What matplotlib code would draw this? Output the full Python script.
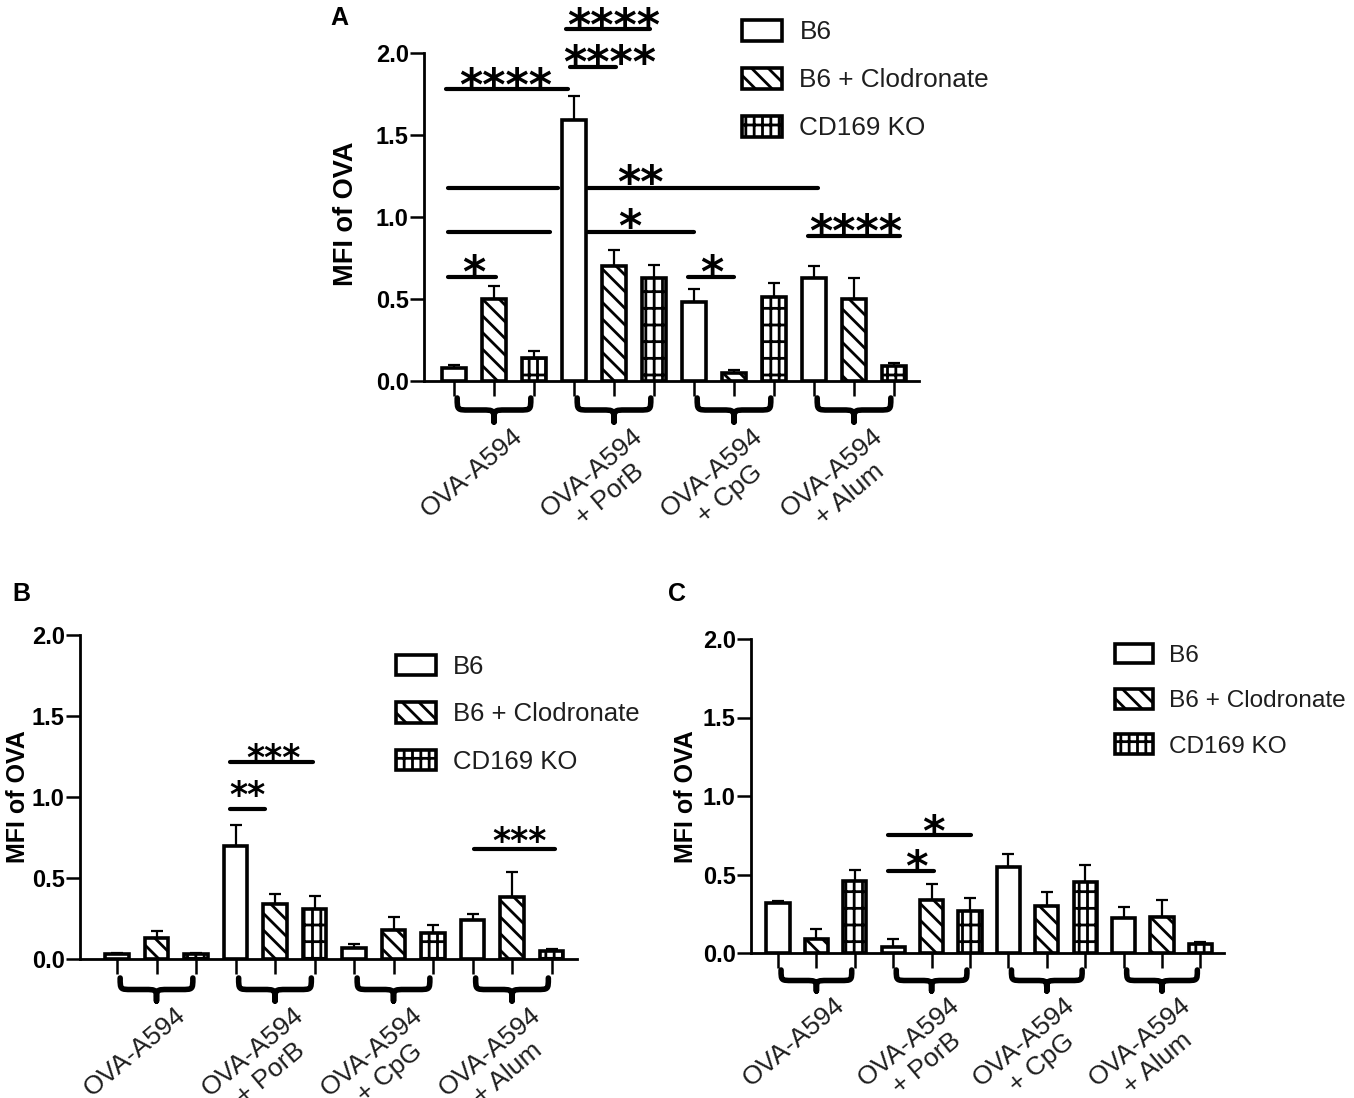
import matplotlib
matplotlib.use("Agg")
import matplotlib.pyplot as plt
import numpy as np
from matplotlib.patches import Patch, PathPatch
from matplotlib.path import Path

plt.rcParams["font.family"] = ["Liberation Sans", "DejaVu Sans"]
plt.rcParams["hatch.linewidth"] = 2.0

FIG_W, FIG_H, DPI = 1354, 1098, 100
TEXT_COLOR = "#1e1e1e"

SERIES = ["B6", "B6 + Clodronate", "CD169 KO"]
HATCHES = ["", "\\\\", "+|"]
GROUPS = ["OVA-A594", "OVA-A594\n+ PorB", "OVA-A594\n+ CpG", "OVA-A594\n+ Alum"]

# bar means and error bar tops, group by group (B6, B6 + Clodronate, CD169 KO)
A_MEAN = [0.08, 0.50, 0.14, 1.59, 0.70, 0.63, 0.48, 0.05, 0.51, 0.63, 0.50, 0.09]
A_TOP = [0.10, 0.58, 0.18, 1.74, 0.80, 0.71, 0.56, 0.07, 0.60, 0.70, 0.63, 0.11]
B_MEAN = [0.03, 0.13, 0.03, 0.70, 0.34, 0.31, 0.07, 0.18, 0.16, 0.24, 0.38, 0.05]
B_TOP = [0.04, 0.17, 0.04, 0.83, 0.40, 0.39, 0.09, 0.26, 0.21, 0.28, 0.54, 0.06]
C_MEAN = [0.32, 0.09, 0.46, 0.04, 0.34, 0.27, 0.55, 0.30, 0.45, 0.22, 0.23, 0.06]
C_TOP = [0.33, 0.15, 0.53, 0.09, 0.44, 0.35, 0.63, 0.39, 0.56, 0.29, 0.34, 0.07]

# significance lines (x from, x to, y) in bar-index units
A_SIG_LINES = [(-0.15, 1.05, 0.637), (5.85, 7.0, 0.637), (-0.15, 2.4, 0.907), (3.35, 6.0, 0.907),
               (-0.15, 2.6, 1.176), (3.35, 9.1, 1.176), (-0.2, 2.85, 1.78), (2.9, 4.05, 1.915),
               (2.8, 4.9, 2.146), (8.85, 11.15, 0.885)]
A_SIG_STARS = [("*", 0.5, 0.72), ("*", 6.45, 0.72), ("*", 4.4, 1.0), ("**", 4.65, 1.27),
               ("****", 1.3, 1.86), ("****", 3.88, 2.0), ("****", 3.98, 2.23), ("****", 10.05, 0.97)]
B_SIG_LINES = [(2.85, 3.75, 0.927), (2.85, 4.95, 1.219), (9.03, 11.09, 0.678)]
B_SIG_STARS = [("**", 3.3, 1.06), ("***", 3.97, 1.29), ("***", 10.2, 0.78)]
C_SIG_LINES = [(2.87, 4.06, 0.523), (2.87, 5.03, 0.751)]
C_SIG_STARS = [("*", 3.6, 0.61), ("*", 4.06, 0.83)]


def draw_brace(ax, x0, x1, top_px, tip_px, ppu, lw=4.0):
    yt, ytip = -top_px / ppu, -tip_px / ppu
    ym = (yt + ytip) / 2
    xc, r = (x0 + x1) / 2, 0.3
    verts = [(x0, yt), (x0, ym), (x0, ym), (x0 + r, ym), (xc - r, ym),
             (xc, ym), (xc, ym), (xc, ytip),
             (xc, ym), (xc, ym), (xc + r, ym), (x1 - r, ym),
             (x1, ym), (x1, ym), (x1, yt)]
    codes = [Path.MOVETO] + [Path.CURVE4] * 3 + [Path.LINETO] + [Path.CURVE4] * 3 \
        + [Path.CURVE4] * 3 + [Path.LINETO] + [Path.CURVE4] * 3
    ax.add_patch(PathPatch(Path(verts, codes), fill=False, lw=lw, color="black",
                           clip_on=False, capstyle="round", joinstyle="round"))


def make_panel(fig, box, bar0, step, means, tops, sig_lines, sig_stars, star_size,
               legend_xy, legend_size, ylabel_xy, ylabel_size, brace_px):
    left, right, y0, y2 = box
    ax = fig.add_axes([left / FIG_W, 1 - y0 / FIG_H, (right - left) / FIG_W, (y0 - y2) / FIG_H])
    x = np.arange(12)
    means, tops = np.array(means), np.array(tops)
    ax.errorbar(x, means, yerr=[np.zeros(12), tops - means], fmt="none", ecolor="black",
                elinewidth=1.6, capsize=4.5, capthick=1.6, zorder=1)
    for s in range(3):
        ax.bar(x[s::3], means[s::3], width=0.6, color="white", edgecolor="black",
               hatch=HATCHES[s], linewidth=2.6, zorder=2)

    ax.set_xlim((left - bar0) / step, (right - bar0) / step)
    ax.set_ylim(0, 2.0)
    ax.set_yticks([0, 0.5, 1.0, 1.5, 2.0])
    ax.set_yticklabels(["0.0", "0.5", "1.0", "1.5", "2.0"], fontweight="bold", fontsize=17)
    ax.set_xticks(x)
    ax.set_xticklabels([])
    ax.tick_params(axis="y", length=10, width=1.8, pad=1)
    ax.tick_params(axis="x", length=11, width=1.8)
    for side in ["top", "right"]:
        ax.spines[side].set_visible(False)
    for side in ["left", "bottom"]:
        ax.spines[side].set_linewidth(2.0)

    ppu = ax.bbox.height / 2.0
    top_px, tip_px = brace_px
    for g, label in enumerate(GROUPS):
        draw_brace(ax, 3 * g + 0.08, 3 * g + 1.92, top_px, tip_px, ppu)
        ax.text(3 * g + 1.45, -(tip_px + 2) / ppu, label, rotation=40, rotation_mode="anchor",
                ha="right", va="top", multialignment="center", fontsize=19, color=TEXT_COLOR)

    for x0, x1, y in sig_lines:
        ax.plot([x0, x1], [y, y], color="black", lw=3.0, solid_capstyle="round", clip_on=False)
    for text, sx, sy in sig_stars:
        ax.annotate(text, xy=(sx, sy), xytext=(0, -0.55 * star_size), textcoords="offset points",
                    ha="center", va="baseline", fontsize=star_size, fontweight="bold",
                    family="DejaVu Sans", annotation_clip=False)

    handles = [Patch(facecolor="white", edgecolor="black", hatch=h, linewidth=2.6) for h in HATCHES]
    ax.legend(handles, SERIES, loc="upper left", bbox_to_anchor=(legend_xy[0] / FIG_W, 1 - legend_xy[1] / FIG_H),
              bbox_transform=fig.transFigure, frameon=False, borderpad=0, borderaxespad=0,
              handlelength=1.55, handleheight=0.85, handletextpad=0.65, labelspacing=0.9,
              prop={"size": legend_size}, labelcolor=TEXT_COLOR)
    fig.text(ylabel_xy[0] / FIG_W, 1 - ylabel_xy[1] / FIG_H, "MFI of OVA", rotation=90,
             ha="center", va="center", fontsize=ylabel_size, fontweight="bold")
    return ax


fig = plt.figure(figsize=(FIG_W / DPI, FIG_H / DPI), dpi=DPI)

make_panel(fig, (424, 919, 381, 53), 454, 40.0, A_MEAN, A_TOP, A_SIG_LINES, A_SIG_STARS, 32,
           (742, 20), 18.8, (346, 214), 19.5, (17, 41))
make_panel(fig, (80, 577, 959, 635), 117, 39.5, B_MEAN, B_TOP, B_SIG_LINES, B_SIG_STARS, 25,
           (396, 655), 18.5, (18, 797), 18, (19, 42))
make_panel(fig, (751, 1224, 953, 639), 778, 38.4, C_MEAN, C_TOP, C_SIG_LINES, C_SIG_STARS, 31,
           (1115, 644), 17.6, (686, 797), 18, (17, 38))

for letter, px, py in [("A", 330, 6), ("B", 12, 582), ("C", 668, 582)]:
    fig.text(px / FIG_W, 1 - py / FIG_H, letter, ha="left", va="top", fontsize=18, fontweight="bold")

fig.savefig("out.png", dpi=DPI)
